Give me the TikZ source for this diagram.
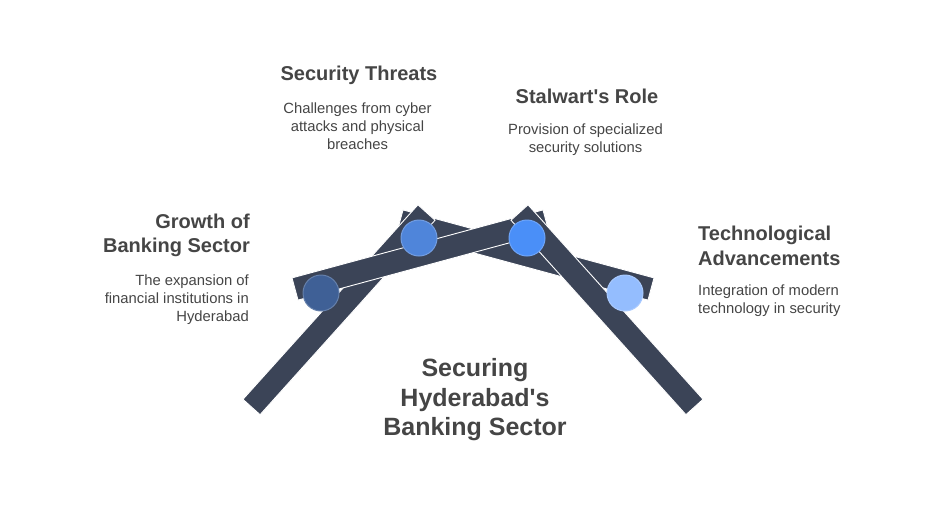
\documentclass[tikz,border=0pt]{standalone}
\usepackage{fontspec}
\setmainfont{Liberation Sans}
\usetikzlibrary{calc}
\definecolor{slabcol}{HTML}{3B4457}
\definecolor{txtcol}{HTML}{454545}
\definecolor{dotA}{HTML}{3F6096}
\definecolor{dotB}{HTML}{4F85DA}
\definecolor{dotC}{HTML}{4A8FF8}
\definecolor{dotD}{HTML}{94BDFE}
\newcommand{\slab}[2]{%
	\filldraw[slab] ($(#1)!\hw!90:(#2)$) -- ($(#2)!\hw!-90:(#1)$) -- ($(#2)!\hw!90:(#1)$) -- ($(#1)!\hw!-90:(#2)$) -- cycle;}
\begin{document}
\begin{tikzpicture}[x=1pt,y=-1pt,
		slab/.style={fill=slabcol,draw=white,line width=0.9pt},
		dot/.style={circle,minimum size=36pt,inner sep=0pt,line width=1pt},
		head/.style={inner sep=0pt,text=txtcol,font=\fontsize{20}{24.5}\selectfont\bfseries},
		desc/.style={inner sep=0pt,text=txtcol,font=\fontsize{14.8}{17.8}\selectfont},
		title/.style={inner sep=0pt,text=txtcol,font=\fontsize{25}{29.5}\selectfont\bfseries}]
		\useasboundingbox (0,0) rectangle (936,504);
		\def\hw{11.5pt}
		
		\coordinate (LL1) at (251.5,407);
		\coordinate (LL2) at (426.5,212.5);
		\coordinate (RL1) at (519.5,212.5);
		\coordinate (RL2) at (694.5,407);
		\coordinate (LP1) at (295,289);
		\coordinate (LP2) at (546,221);
		\coordinate (RP1) at (400,221);
		\coordinate (RP2) at (651,289);
		
		\slab{RP1}{RP2}
		\slab{LL1}{LL2}
		\slab{LP1}{LP2}
		\slab{RL1}{RL2}
		
		\node[dot,fill=dotA,draw=dotA!80!white] (c1) at (321,293) {};
		\node[dot,fill=dotB,draw=dotB!80!white] (c2) at (419,238) {};
		\node[dot,fill=dotC,draw=dotC!80!white] (c3) at (527,238) {};
		\node[dot,fill=dotD,draw=dotD!80!white] (c4) at (625,293) {};
		
		% multi-line nodes sit on the baseline of their last line
		\node[head,anchor=base] (threat) at (359,80) {Security Threats};
		\node[desc,anchor=base,align=center] (threatd) at (357.5,149) {Challenges from cyber\\attacks and physical\\breaches};
		\node[head,anchor=base] (role) at (587,103) {Stalwart\textquotesingle s Role};
		\node[desc,anchor=base,align=center] (roled) at (585.5,152) {Provision of specialized\\security solutions};
		\node[head,anchor=base east,align=right] (growth) at (250,252.5) {Growth of\\Banking Sector};
		\node[desc,anchor=base east,align=right] (growthd) at (249,321) {The expansion of\\financial institutions in\\Hyderabad};
		\node[head,anchor=base west,align=left] (tech) at (698,265) {Technological\\Advancements};
		\node[desc,anchor=base west,align=left] (techd) at (698,313.5) {Integration of modern\\technology in security};
		\node[title,anchor=base,align=center] (main) at (475,435.5) {Securing\\Hyderabad\textquotesingle s\\Banking Sector};
	\end{tikzpicture}
\end{document}
